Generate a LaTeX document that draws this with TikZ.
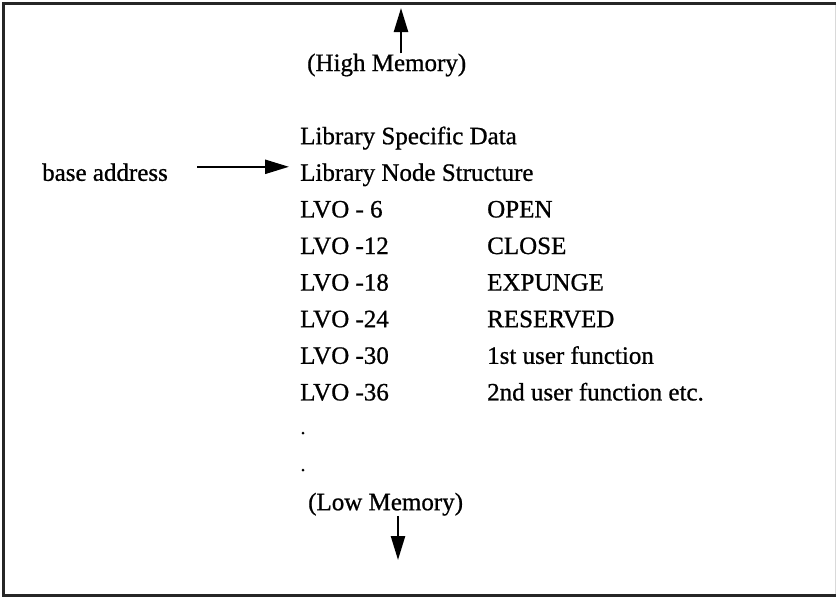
\documentclass[tikz,border=0pt]{standalone}
\usepackage{fontspec}
\setmainfont{Liberation Serif}[FakeBold=0.8]
\usetikzlibrary{arrows.meta,calc}
\begin{document}
\begin{tikzpicture}[x=1pt,y=-1pt,
  lbl/.style={anchor=base west,inner sep=0pt,font=\fontsize{25}{30}\selectfont},
  ptr/.style={line width=2.4pt,-{Triangle[length=24pt,width=14pt]}},
  dot/.style={circle,fill=black,inner sep=0pt,minimum size=3pt}]
\useasboundingbox (0,0) rectangle (837,597);
\fill[white] (0,0) rectangle (837,597);
% frame
\draw[line width=3pt,black!85] (836,3.5) -- (3.5,3.5) -- (3.5,595) -- (836,595);
\draw[line width=1pt,black!15] (835.5,5) -- (835.5,593.5);

% memory layout, one row every 36.6 units
\node[lbl] (hm)  at (307,71)    {(High Memory)};
\node[lbl] (lsd) at (300,144.2) {Library Specific Data};
\node[lbl] (lns) at (300,180.8) {Library Node Structure};
\node[lbl] (ba)  at (42,180.8)  {base address};

\node[lbl] (o1) at (300,217.4) {LVO - 6};
\node[lbl] (o2) at (300,254.0) {LVO -12};
\node[lbl] (o3) at (300,290.6) {LVO -18};
\node[lbl] (o4) at (300,327.2) {LVO -24};
\node[lbl] (o5) at (300,363.8) {LVO -30};
\node[lbl] (o6) at (300,400.4) {LVO -36};

\node[lbl] (f1) at (487,217.4) {OPEN};
\node[lbl] (f2) at (487,254.0) {CLOSE};
\node[lbl] (f3) at (487,290.6) {EXPUNGE};
\node[lbl] (f4) at (487,327.2) {RESERVED};
\node[lbl] (f5) at (487,363.8) {1st user function};
\node[lbl] (f6) at (487,400.4) {2nd user function etc.};

\node[dot] (d1) at (303,433) {};
\node[dot] (d2) at (303,470) {};

\node[lbl] (lm) at (308,510.2) {(Low Memory)};

% pointers
\coordinate (hmtip) at (401,8);
\coordinate (lmtip) at (398,560);
\draw[ptr] (hm.north -| hmtip) -- (hmtip);
\draw[ptr] (lm.south -| lmtip) -- (lmtip);
\draw[ptr] ($(lns.base west)+(-103,-14)$) -- ($(lns.base west)+(-11,-14)$);
\end{tikzpicture}
\end{document}
